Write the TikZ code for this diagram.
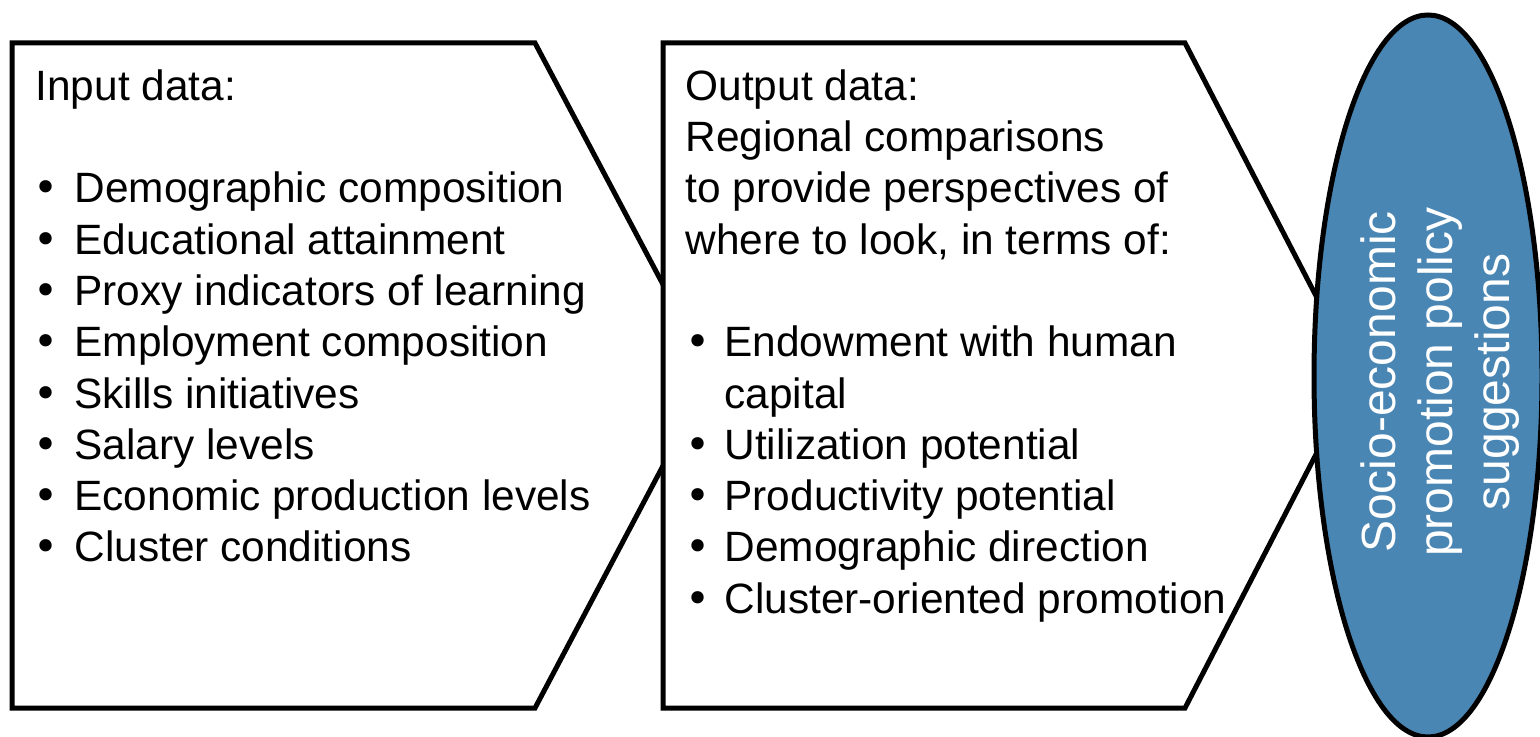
\documentclass[tikz,border=0pt]{standalone}
\usepackage{fontspec}
\setmainfont{Liberation Sans}
\newfontfamily\bulfont{DejaVu Sans}
\usetikzlibrary{shapes}
\definecolor{policyblue}{RGB}{74,134,179}
\newcommand\lbul{\makebox[19.5pt][l]{\hspace{-1pt}{\bulfont\textbullet}}}
\newcommand\rbul{\makebox[19.5pt][l]{\hspace{0pt}{\bulfont\textbullet}}}

\begin{document}
\begin{tikzpicture}[x=0.5pt,y=-0.5pt,line width=2.5pt]
\tikzstyle{box}=[draw=black,fill=white,line join=miter]
\tikzstyle{list}=[anchor=north west,align=left,inner sep=0pt,font=\fontsize{21.2}{25.65}\selectfont]
\useasboundingbox (0,0) rectangle (1540,737);
\draw[box] (12,43) -- (535,43) -- (711,375) -- (535,708) -- (12,708) -- cycle;
\draw[box] (663,43) -- (1185,43) -- (1357,375) -- (1185,708) -- (663,708) -- cycle;
\node[list] (input) at (33,67) {Input data:\\[25.65pt]
  \lbul Demographic composition\\
  \lbul Educational attainment\\
  \lbul Proxy indicators of learning\\
  \lbul Employment composition\\
  \lbul Skills initiatives\\
  \lbul Salary levels\\
  \lbul Economic production levels\\
  \lbul Cluster conditions};
\node[list] (output) at (683,67) {Output data:\\
  Regional comparisons\\
  to provide perspectives of\\
  where to look, in terms of:\\[25.65pt]
  \rbul Endowment with human\\
  \hspace*{19.5pt}capital\\
  \rbul Utilization potential\\
  \rbul Productivity potential\\
  \rbul Demographic direction\\
  \rbul Cluster-oriented promotion};
\node[ellipse,draw=black,fill=policyblue,rotate=90,minimum width=361pt,minimum height=114pt,inner sep=0pt] (policy) at (1428,376) {};
\node[rotate=90,text=white,align=center,inner sep=0pt,font=\fontsize{24}{28.5}\selectfont] (policytext) at (1440,382)
  {Socio-economic\\promotion policy\\suggestions};
\end{tikzpicture}
\end{document}
